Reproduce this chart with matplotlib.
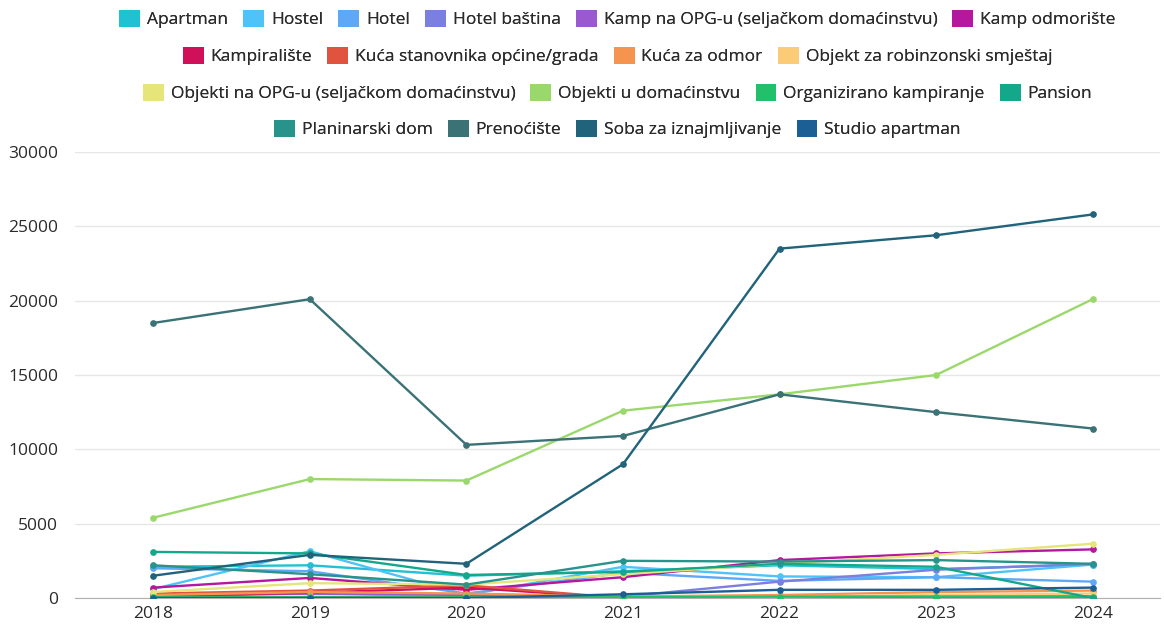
import numpy as np
import matplotlib.pyplot as plt
from matplotlib.patches import Patch

plt.rcParams['font.family'] = ['Open Sans', 'DejaVu Sans']

years = [2018, 2019, 2020, 2021, 2022, 2023, 2024]

names = ['Apartman', 'Hostel', 'Hotel', 'Hotel baština',
         'Kamp na OPG-u (seljačkom domaćinstvu)', 'Kamp odmorište',
         'Kampiralište', 'Kuća stanovnika općine/grada', 'Kuća za odmor',
         'Objekt za robinzonski smještaj',
         'Objekti na OPG-u (seljačkom domaćinstvu)', 'Objekti u domaćinstvu',
         'Organizirano kampiranje', 'Pansion',
         'Planinarski dom', 'Prenoćište', 'Soba za iznajmljivanje', 'Studio apartman']

colors = ['#1fc1d3', '#4ec3f7', '#5fa8f5', '#7b7fe0',
          '#9b59d0', '#b5179e',
          '#d1105a', '#e0533f', '#f5944f',
          '#fbcb77',
          '#e5e57a', '#9bd86c',
          '#22c06a', '#14a88a',
          '#27938a', '#3a7276', '#20637a', '#1c5f94']

apartman = [2100, 2200, 1500, 1800, 2200, 1950, 2250]
hostel = [600, 3150, 200, 2100, 1450, 1400, 2250]
hotel = [2000, 1800, 300, 1700, 1150, 1400, 1100]
hotel_bastina = [300, 300, 100, 100, 1100, 1900, 2300]
kamp_opg = [100, 300, 200, 50, 100, 100, 100]
kamp_odmoriste = [700, 1350, 550, 1400, 2550, 3000, 3270]
kampiraliste = [150, 350, 700, 0, 0, 0, 0]
kuca_stanovnika = [300, 500, 850, 0, 0, 0, 0]
kuca_odmor = [200, 400, 300, 100, 200, 400, 500]
robinzonski = [0, 100, 50, 50, 100, 200, 300]
objekti_opg = [400, 1000, 900, 1600, 2300, 2900, 3650]
objekti_domacinstvo = [5400, 8000, 7900, 12600, 13700, 15000, 20100]
organizirano = [50, 50, 50, 50, 100, 100, 100]
pansion = [3100, 3000, 1550, 1750, 2300, 2100, 0]
planinarski = [2200, 1600, 900, 2500, 2450, 2550, 2300]
prenociste = [18500, 20100, 10300, 10900, 13700, 12500, 11400]
soba = [1500, 2900, 2300, 9000, 23500, 24400, 25800]
studio = [0, 0, 0, 250, 550, 550, 700]

series = [apartman, hostel, hotel, hotel_bastina, kamp_opg, kamp_odmoriste,
          kampiraliste, kuca_stanovnika, kuca_odmor, robinzonski,
          objekti_opg, objekti_domacinstvo, organizirano, pansion,
          planinarski, prenociste, soba, studio]

legend_rows = [[0, 1, 2, 3, 4, 5], [6, 7, 8, 9], [10, 11, 12, 13], [14, 15, 16, 17]]

fig = plt.figure(figsize=(11.64, 6.27), dpi=100)
ax = fig.add_axes([75/1164, 29/627, 1085/1164, 446/627])

for vals, c in zip(series, colors):
    ax.plot(years, vals, color=c, lw=1.7, marker='o', ms=3.8, zorder=3)

ax.set_xlim(2017.5, 2024.43)
ax.set_ylim(0, 30000)
ax.set_yticks(np.arange(0, 30001, 5000))
ax.set_xticks(years)
ax.grid(axis='y', color='#e6e6e6', lw=1)
ax.set_axisbelow(True)
for s in ['top', 'right', 'left']:
    ax.spines[s].set_visible(False)
ax.spines['bottom'].set_color('#b0b0b0')
ax.spines['bottom'].set_zorder(1)
ax.tick_params(axis='both', length=0, labelsize=12.5, colors='#2b2b2b')
ax.tick_params(axis='x', pad=6)
ax.tick_params(axis='y', pad=12)

cx = (75 + 1160) / 2 / 1164
row_y = [19, 56, 93, 129]
for row, yy in zip(legend_rows, row_y):
    handles = [Patch(facecolor=colors[i], edgecolor='none', label=names[i]) for i in row]
    leg = fig.legend(handles=handles, loc='center', ncol=len(row),
                     bbox_to_anchor=(cx, 1 - yy/627), frameon=False,
                     fontsize=12.5, handlelength=1.2, handleheight=1.2,
                     handletextpad=0.4, columnspacing=0.87, borderpad=0,
                     labelcolor='#2b2b2b')
    fig.add_artist(leg)

fig.savefig('out.png', dpi=100)
